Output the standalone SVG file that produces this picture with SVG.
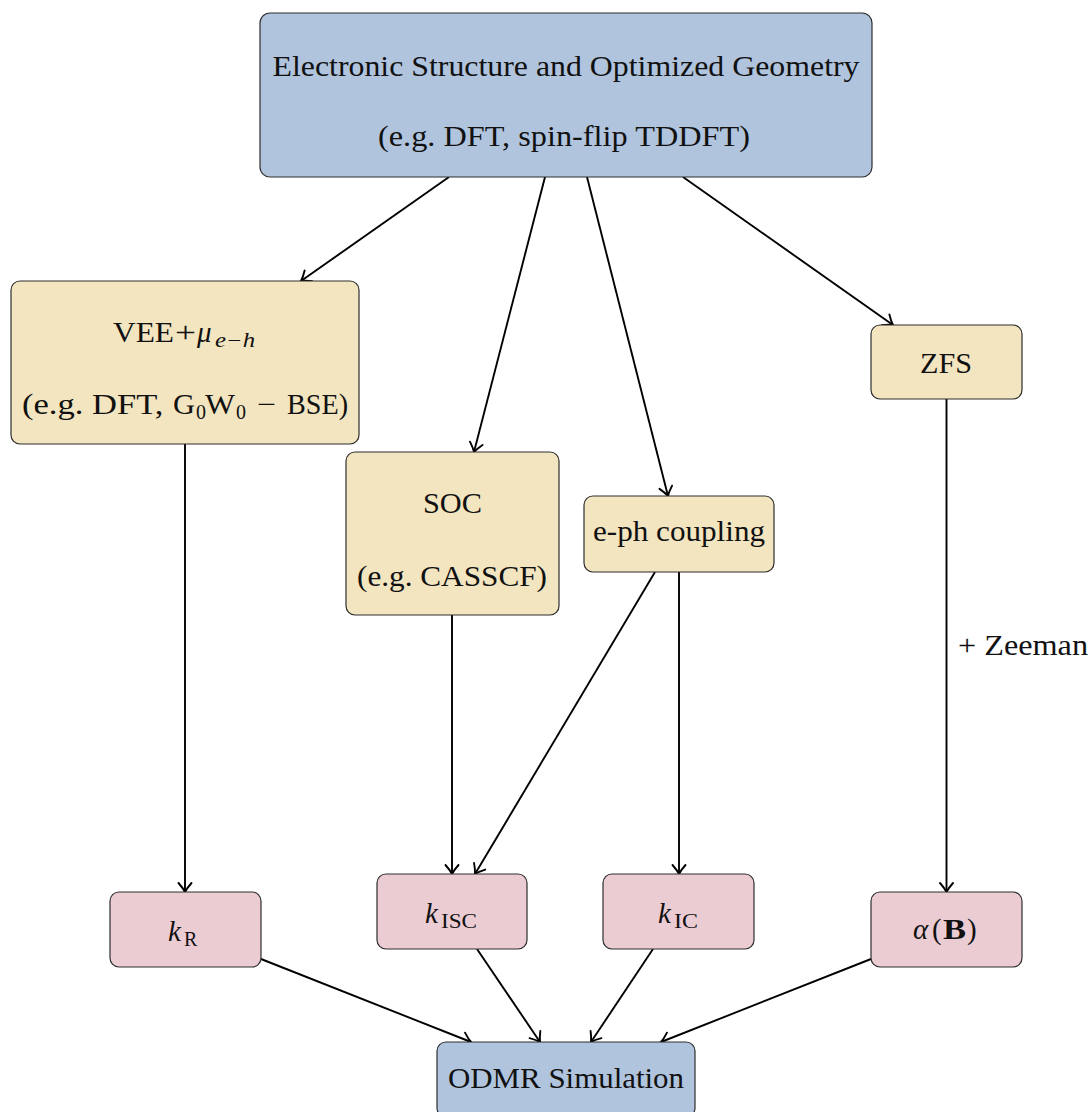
<svg xmlns="http://www.w3.org/2000/svg" width="1090" height="1112" viewBox="0 0 1090 1112">
<defs>
<style>
.box{stroke:#2e2e2e;stroke-width:1.2}
.blue{fill:#B0C4DE}
.yellow{fill:#F3E5C0}
.pink{fill:#EBCCD3}
text{font-family:"Liberation Serif","Times New Roman",serif;font-size:29px;fill:#111}
.mid{text-anchor:middle}
.it{font-style:italic}
.sub{font-size:20px}
.edge{stroke:#000;stroke-width:1.9;fill:none;marker-end:url(#arr)}
</style>
<marker id="arr" markerUnits="userSpaceOnUse" viewBox="-12 -8 14 16" refX="0" refY="0" markerWidth="14" markerHeight="16" orient="auto" overflow="visible">
<path d="M -9 -6.5 C -5 -3 -2 -1 0 0 C -2 1 -5 3 -9 6.5" fill="none" stroke="#000" stroke-width="1.9" stroke-linecap="round"/>
</marker>
</defs>
<rect width="1090" height="1112" fill="#fff"/>
<g id="connectors">
<path class="edge" d="M449,177 L301,281"/>
<path class="edge" d="M545,177 L474,452"/>
<path class="edge" d="M587,177 L668,496"/>
<path class="edge" d="M683,177 L893,325"/>
<path class="edge" d="M185,444 L185,892"/>
<path class="edge" d="M452,615 L452,874"/>
<path class="edge" d="M655,572 L475,874"/>
<path class="edge" d="M679,572 L679,874"/>
<path class="edge" d="M946.5,399 L946.5,892"/>
<path class="edge" d="M261,959 L471,1042"/>
<path class="edge" d="M477,949 L540,1042"/>
<path class="edge" d="M653,949 L591,1042"/>
<path class="edge" d="M871,959 L661,1042"/>
<text x="958" y="655" textLength="130" lengthAdjust="spacingAndGlyphs">+ Zeeman</text>
</g>
<g id="electronic-structure">
<rect class="box blue" x="260" y="13" width="612" height="164" rx="10"/>
<text class="mid" x="566" y="76" textLength="587" lengthAdjust="spacingAndGlyphs">Electronic Structure and Optimized Geometry</text>
<text class="mid" x="564" y="146" textLength="372" lengthAdjust="spacingAndGlyphs">(e.g. DFT, spin-flip TDDFT)</text>
</g>
<g id="vee">
<rect class="box yellow" x="11" y="281" width="348" height="163" rx="9"/>
<text x="113" y="342"><tspan textLength="61" lengthAdjust="spacingAndGlyphs">VEE</tspan><tspan x="175" textLength="21" lengthAdjust="spacingAndGlyphs">+</tspan><tspan x="197" class="it">μ</tspan><tspan x="215" y="347" class="it sub" textLength="40" lengthAdjust="spacingAndGlyphs">e−h</tspan></text>
<text x="22" y="414"><tspan textLength="150" lengthAdjust="spacingAndGlyphs">(e.g. DFT, </tspan><tspan x="173" textLength="22" lengthAdjust="spacingAndGlyphs">G</tspan><tspan x="196" y="419" class="sub">0</tspan><tspan x="205" y="414" textLength="30" lengthAdjust="spacingAndGlyphs">W</tspan><tspan x="236" y="419" class="sub">0</tspan><tspan x="257" y="414" textLength="19" lengthAdjust="spacingAndGlyphs">−</tspan><tspan x="287" textLength="61" lengthAdjust="spacingAndGlyphs">BSE)</tspan></text>
</g>
<g id="soc">
<rect class="box yellow" x="346" y="452" width="213" height="163" rx="9"/>
<text class="mid" x="452.5" y="513" textLength="59" lengthAdjust="spacingAndGlyphs">SOC</text>
<text class="mid" x="452" y="586" textLength="190" lengthAdjust="spacingAndGlyphs">(e.g. CASSCF)</text>
</g>
<g id="eph">
<rect class="box yellow" x="584" y="496" width="190" height="76" rx="9"/>
<text class="mid" x="679" y="541" textLength="172" lengthAdjust="spacingAndGlyphs">e-ph coupling</text>
</g>
<g id="zfs">
<rect class="box yellow" x="871" y="325" width="151" height="74" rx="9"/>
<text class="mid" x="946" y="373" textLength="52" lengthAdjust="spacingAndGlyphs">ZFS</text>
</g>
<g id="kR">
<rect class="box pink" x="110" y="892" width="151" height="75" rx="9"/>
<text x="168" y="941"><tspan class="it">k</tspan><tspan x="184" y="946" class="sub">R</tspan></text>
</g>
<g id="kISC">
<rect class="box pink" x="377" y="874" width="150" height="75" rx="9"/>
<text x="425" y="923"><tspan class="it">k</tspan><tspan x="441" y="928" class="sub" textLength="36" lengthAdjust="spacingAndGlyphs">ISC</tspan></text>
</g>
<g id="kIC">
<rect class="box pink" x="603" y="874" width="151" height="75" rx="9"/>
<text x="658" y="923"><tspan class="it">k</tspan><tspan x="674" y="928" class="sub" textLength="24" lengthAdjust="spacingAndGlyphs">IC</tspan></text>
</g>
<g id="alphaB">
<rect class="box pink" x="871" y="892" width="151" height="75" rx="9"/>
<text x="913" y="939"><tspan class="it">α</tspan><tspan x="932">(</tspan><tspan x="943" font-weight="bold" textLength="23" lengthAdjust="spacingAndGlyphs">B</tspan><tspan x="967">)</tspan></text>
</g>
<g id="odmr">
<rect class="box blue" x="437" y="1042" width="258" height="75" rx="9"/>
<text class="mid" x="566" y="1088" textLength="236" lengthAdjust="spacingAndGlyphs">ODMR Simulation</text>
</g>
</svg>
